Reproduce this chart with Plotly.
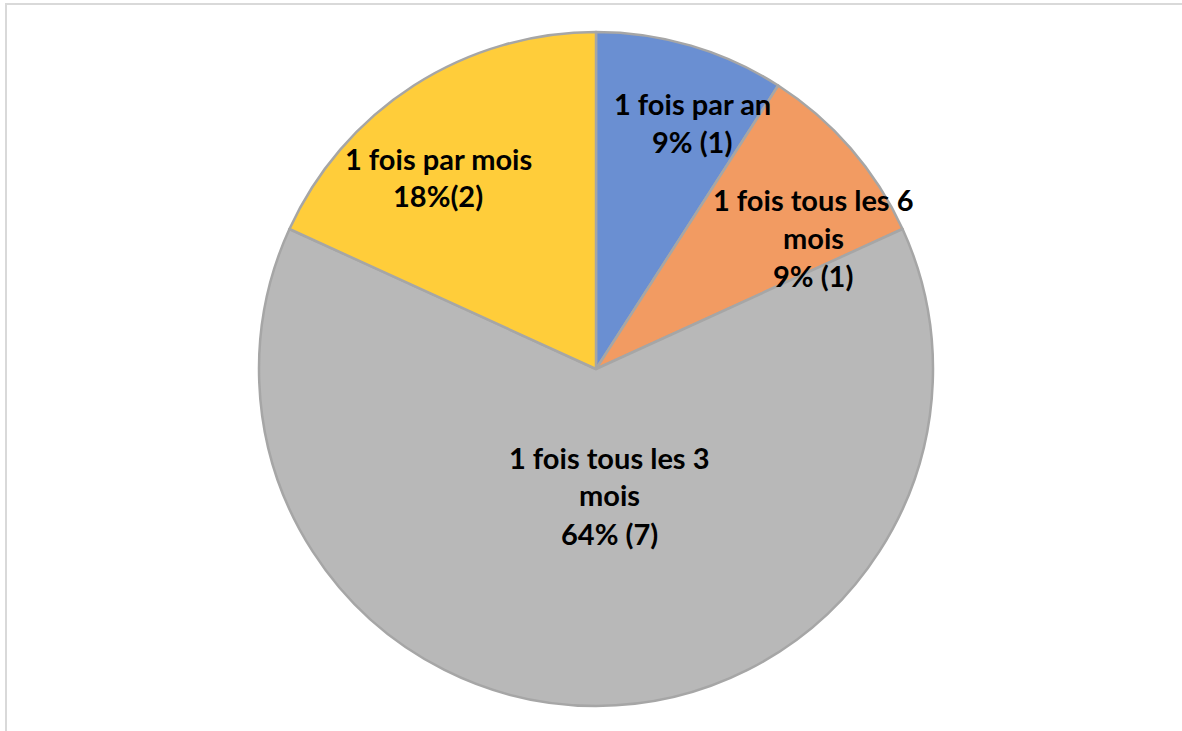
import plotly.graph_objects as go

categories = ["1 fois par an", "1 fois tous les 6 mois", "1 fois tous les 3 mois", "1 fois par mois"]
counts = [1, 1, 7, 2]
percent_labels = ["9% (1)", "9% (1)", "64% (7)", "18%(2)"]
label_lines = [
    ["1 fois par an", "9% (1)"],
    ["1 fois tous les 6", "mois", "9% (1)"],
    ["1 fois tous les 3", "mois", "64% (7)"],
    ["1 fois par mois", "18%(2)"],
]
colors = ["#6a8fd2", "#f29b62", "#b8b8b8", "#ffcd3a"]

W, H = 1182, 731
cx, cy, r = 596, 369, 337

fig = go.Figure()
fig.add_trace(go.Pie(
    labels=categories,
    values=counts,
    sort=False,
    direction="clockwise",
    rotation=0,
    marker=dict(colors=colors, line=dict(color="#a6a6a6", width=2.5)),
    textinfo="none",
    hoverinfo="label+value+percent",
    showlegend=False,
    domain=dict(x=[(cx - r) / W, (cx + r) / W], y=[1 - (cy + r) / H, 1 - (cy - r) / H]),
))

# label centers (pixel coords) and line spacing
label_pos = [(692, 122), (813, 237), (609, 495), (438, 177)]
spacing = 38
for lines, (lx, ly) in zip(label_lines, label_pos):
    n = len(lines)
    for i, t in enumerate(lines):
        yy = ly + (i - (n - 1) / 2) * spacing
        fig.add_annotation(
            x=lx / W, y=1 - yy / H, xref="paper", yref="paper",
            text="<b>%s</b>" % t, showarrow=False,
            font=dict(family="Lato", size=29, color="#000000"),
            xanchor="center", yanchor="middle",
        )

fig.add_shape(type="rect", xref="paper", yref="paper",
              x0=6 / W, x1=1.05, y0=-0.05, y1=1 - 4 / H,
              line=dict(color="#d9d9d9", width=2), fillcolor="rgba(0,0,0,0)")

fig.update_layout(
    width=W, height=H,
    margin=dict(l=0, r=0, t=0, b=0),
    paper_bgcolor="white", plot_bgcolor="white",
)
fig.write_html(
    "out.html",
    config={"displayModeBar": False},
    post_script="document.body.style.margin='0';document.body.style.overflow='hidden';",
)
